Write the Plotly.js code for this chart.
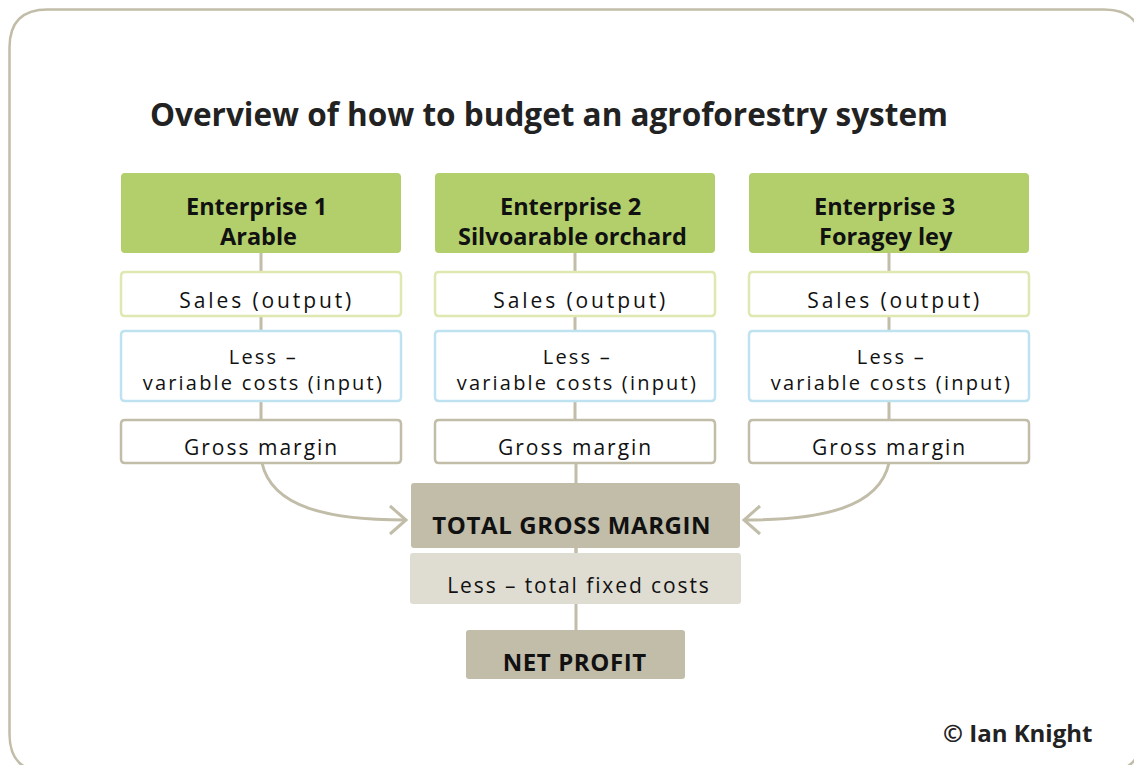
<!DOCTYPE html>
<html>
<head>
<meta charset="utf-8">
<script src="https://cdn.plot.ly/plotly-3.0.1.min.js"></script>
<style>html,body{margin:0;padding:0;background:#fff;}#chart{width:1134px;height:765px;}</style>
</head>
<body>
<div id="chart"></div>
<script>
// ---- content ----
const titleText = "Overview of how to budget an agroforestry system";
const enterpriseNames = ["Enterprise 1", "Enterprise 2", "Enterprise 3"];
const enterpriseTypes = ["Arable", "Silvoarable orchard", "Foragey ley"];
const salesLabels = ["Sales (output)", "Sales (output)", "Sales (output)"];
const lessLabels = ["Less –", "Less –", "Less –"];
const variableLabels = ["variable costs (input)", "variable costs (input)", "variable costs (input)"];
const grossLabels = ["Gross margin", "Gross margin", "Gross margin"];
const totalLabel = "TOTAL GROSS MARGIN";
const fixedLabel = "Less – total fixed costs";
const netLabel = "NET PROFIT";
const creditLabel = "© Ian Knight";

// ---- layout geometry (pixel space) ----
const colX0 = [121, 435, 749];
const colW = 280;
const GREEN = "#b2cf6c", TAN = "#c1bda9", LIGHTTAN = "#dfdcd2";
const BORDER = "#c1bda9", SALESB = "#dfe8b0", LESSB = "#bfe2f1";

function rr(x0, y0, x1, y1, r) {
  return `M ${x0 + r} ${y0} L ${x1 - r} ${y0} Q ${x1} ${y0} ${x1} ${y0 + r} L ${x1} ${y1 - r} Q ${x1} ${y1} ${x1 - r} ${y1} L ${x0 + r} ${y1} Q ${x0} ${y1} ${x0} ${y1 - r} L ${x0} ${y0 + r} Q ${x0} ${y0} ${x0 + r} ${y0} Z`;
}

const shapes = [];
const ann = [];
const spacing = [];   // letter-spacing per annotation (px)
const REG = "Open Sans, Noto Sans, sans-serif";
const BOLD = "Open Sans, Noto Sans, sans-serif";

function addText(o, ls) { ann.push(o); spacing.push(ls || 0); }

// outer frame
shapes.push({type: "path", path: rr(9.5, 9.5, 1142, 772, 38), line: {color: BORDER, width: 2.5}, fillcolor: "rgba(0,0,0,0)"});

// connectors
for (let i = 0; i < 3; i++) {
  const cx = colX0[i] + colW / 2;
  shapes.push({type: "line", x0: cx, x1: cx, y0: 253, y1: 420, line: {color: BORDER, width: 3}});
}
shapes.push({type: "line", x0: 576, x1: 576, y0: 463, y1: 630, line: {color: BORDER, width: 3}});
// curved arrows
shapes.push({type: "path", path: "M 262 463 C 272 508 330 520 405 520", line: {color: BORDER, width: 3}});
shapes.push({type: "path", path: "M 390 506 L 406 520 L 390 534", line: {color: BORDER, width: 3}});
shapes.push({type: "path", path: "M 889 463 C 879 508 821 520 745 520", line: {color: BORDER, width: 3}});
shapes.push({type: "path", path: "M 760 506 L 744 520 L 760 534", line: {color: BORDER, width: 3}});

for (let i = 0; i < 3; i++) {
  const x0 = colX0[i], x1 = x0 + colW, cx = x0 + colW / 2;
  shapes.push({type: "path", path: rr(x0, 173, x1, 253, 4), fillcolor: GREEN, line: {width: 0}});
  shapes.push({type: "path", path: rr(x0, 272, x1, 316, 4), fillcolor: "#fff", line: {color: SALESB, width: 2.5}});
  shapes.push({type: "path", path: rr(x0, 331, x1, 401, 4), fillcolor: "#fff", line: {color: LESSB, width: 2.5}});
  shapes.push({type: "path", path: rr(x0, 420, x1, 463, 4), fillcolor: "#fff", line: {color: BORDER, width: 2.5}});
  addText({x: cx - 5, y: 206, text: "<b>" + enterpriseNames[i] + "</b>", font: {family: BOLD, size: 23.5, color: "#111"}}, 0);
  addText({x: cx - 3, y: 236, text: "<b>" + enterpriseTypes[i] + "</b>", font: {family: BOLD, size: 23.5, color: "#111"}}, 0);
  addText({x: cx + 7, y: 300, text: salesLabels[i], font: {family: REG, size: 21, color: "#111"}}, 2.9);
  addText({x: cx + 3, y: 369.5, text: lessLabels[i] + "<br>" + variableLabels[i], font: {family: REG, size: 20, color: "#111"}}, 2.2);
  addText({x: cx + 1, y: 447, text: grossLabels[i], font: {family: REG, size: 21, color: "#111"}}, 2);
}

shapes.push({type: "path", path: rr(411, 483, 740, 548, 3), fillcolor: TAN, line: {width: 0}});
shapes.push({type: "path", path: rr(410, 553, 741, 604, 3), fillcolor: LIGHTTAN, line: {width: 0}});
shapes.push({type: "path", path: rr(466, 630, 685, 679, 3), fillcolor: TAN, line: {width: 0}});
shapes.push({type: "line", x0: 576, x1: 576, y0: 548, y1: 553, line: {color: BORDER, width: 3}});

addText({x: 572, y: 524.5, text: "<b>" + totalLabel + "</b>", font: {family: BOLD, size: 24, color: "#111"}}, 0.6);
addText({x: 580, y: 585, text: fixedLabel, font: {family: REG, size: 21, color: "#111"}}, 1.9);
addText({x: 575, y: 661.5, text: "<b>" + netLabel + "</b>", font: {family: BOLD, size: 24, color: "#111"}}, 0.6);
addText({x: 148, y: 113, text: "<b>" + titleText + "</b>", xanchor: "left", font: {family: BOLD, size: 31.5, color: "#222"}}, 0);
addText({x: 1094, y: 732, text: "<b>" + creditLabel + "</b>", xanchor: "right", font: {family: BOLD, size: 24, color: "#222"}}, 0);

ann.forEach(a => { a.xref = "x"; a.yref = "y"; a.showarrow = false; if (!a.xanchor) a.xanchor = "center"; a.yanchor = "middle"; });
shapes.forEach(s => { s.xref = "x"; s.yref = "y"; s.layer = "below"; });

const layout = {
  width: 1134, height: 765,
  margin: {l: 0, r: 0, t: 0, b: 0},
  paper_bgcolor: "#fff", plot_bgcolor: "#fff",
  xaxis: {range: [0, 1134], visible: false, fixedrange: true},
  yaxis: {range: [765, 0], visible: false, fixedrange: true},
  shapes: shapes, annotations: ann, showlegend: false
};
Plotly.newPlot("chart", [{x: [0], y: [0], mode: "markers", marker: {opacity: 0}, hoverinfo: "skip"}], layout, {staticPlot: true, displayModeBar: false})
  .then(function () {
    document.querySelectorAll("g.annotation").forEach(function (g) {
      const idx = +g.getAttribute("data-index");
      const ls = spacing[idx];
      if (ls) {
        const t = g.querySelector("text.annotation-text");
        if (t) {
          t.style.letterSpacing = ls + "px";
          t.setAttribute("transform", "translate(" + (-ls / 2) + ",0)");
        }
      }
    });
  });
</script>
</body>
</html>
